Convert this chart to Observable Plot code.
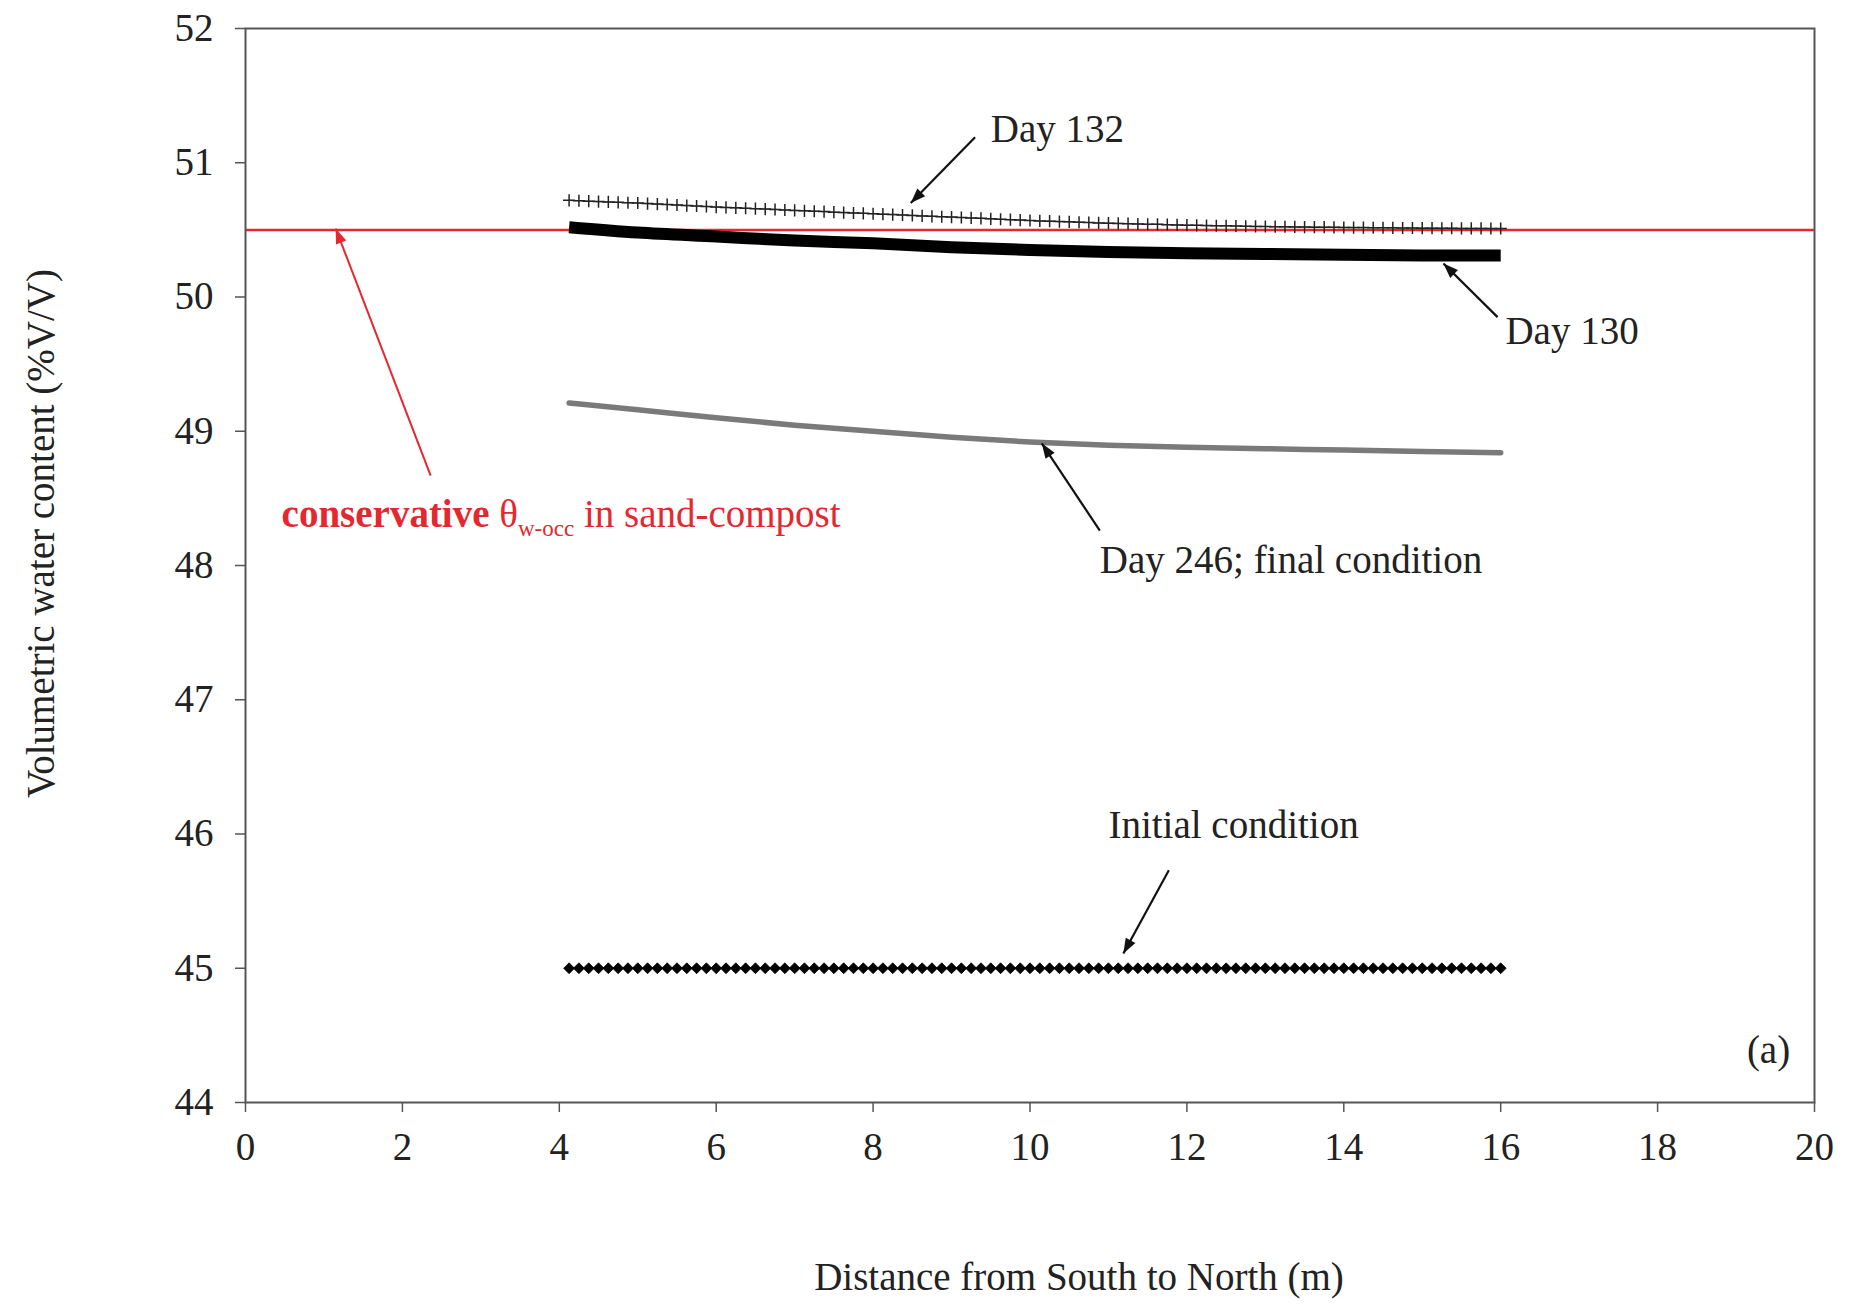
<!DOCTYPE html>
<html>
<head>
<meta charset="utf-8">
<script src="https://cdn.jsdelivr.net/npm/d3@7"></script>
<script src="https://cdn.jsdelivr.net/npm/@observablehq/plot@0.6"></script>
<style>
  html, body { margin: 0; padding: 0; background: #fff; }
  #chart svg { display: block; }
</style>
</head>
<body>
<div id="chart"></div>
<script>
// Distance (m) of the simulated points (markers)
const distance = [
  4.125, 4.25, 4.375, 4.5, 4.625, 4.75, 4.875,
  5, 5.125, 5.25, 5.375, 5.5, 5.625, 5.75, 5.875,
  6, 6.125, 6.25, 6.375, 6.5, 6.625, 6.75, 6.875,
  7, 7.125, 7.25, 7.375, 7.5, 7.625, 7.75, 7.875,
  8, 8.125, 8.25, 8.375, 8.5, 8.625, 8.75, 8.875,
  9, 9.125, 9.25, 9.375, 9.5, 9.625, 9.75, 9.875,
  10, 10.125, 10.25, 10.375, 10.5, 10.625, 10.75, 10.875,
  11, 11.125, 11.25, 11.375, 11.5, 11.625, 11.75, 11.875,
  12, 12.125, 12.25, 12.375, 12.5, 12.625, 12.75, 12.875,
  13, 13.125, 13.25, 13.375, 13.5, 13.625, 13.75, 13.875,
  14, 14.125, 14.25, 14.375, 14.5, 14.625, 14.75, 14.875,
  15, 15.125, 15.25, 15.375, 15.5, 15.625, 15.75, 15.875,
  16
];
const day132 = [
  50.720, 50.717, 50.714, 50.711, 50.708, 50.705, 50.702,
  50.700, 50.696, 50.692, 50.689, 50.685, 50.681, 50.678, 50.674,
  50.670, 50.667, 50.664, 50.661, 50.658, 50.655, 50.652, 50.648,
  50.645, 50.642, 50.639, 50.636, 50.632, 50.629, 50.626, 50.623,
  50.620, 50.617, 50.614, 50.611, 50.608, 50.604, 50.601, 50.598,
  50.595, 50.592, 50.589, 50.586, 50.582, 50.579, 50.576, 50.573,
  50.570, 50.567, 50.565, 50.562, 50.560, 50.557, 50.555, 50.552,
  50.550, 50.548, 50.546, 50.544, 50.542, 50.541, 50.539, 50.537,
  50.535, 50.534, 50.532, 50.531, 50.530, 50.529, 50.527, 50.526,
  50.525, 50.524, 50.523, 50.522, 50.521, 50.520, 50.520, 50.519,
  50.518, 50.517, 50.517, 50.516, 50.516, 50.515, 50.514, 50.514,
  50.513, 50.513, 50.512, 50.512, 50.511, 50.511, 50.511, 50.510,
  50.510
];
const initialCondition = [
  45, 45, 45, 45, 45, 45, 45,
  45, 45, 45, 45, 45, 45, 45, 45,
  45, 45, 45, 45, 45, 45, 45, 45,
  45, 45, 45, 45, 45, 45, 45, 45,
  45, 45, 45, 45, 45, 45, 45, 45,
  45, 45, 45, 45, 45, 45, 45, 45,
  45, 45, 45, 45, 45, 45, 45, 45,
  45, 45, 45, 45, 45, 45, 45, 45,
  45, 45, 45, 45, 45, 45, 45, 45,
  45, 45, 45, 45, 45, 45, 45, 45,
  45, 45, 45, 45, 45, 45, 45, 45,
  45, 45, 45, 45, 45, 45, 45, 45,
  45
];
// Smooth lines (no markers)
const lineDistance = [4.125, 5, 6, 7, 8, 9, 10, 11, 12, 13, 14, 15, 16];
const day130 = [50.52, 50.48, 50.45, 50.42, 50.40, 50.37, 50.35, 50.335, 50.325, 50.32, 50.315, 50.31, 50.31];
const day246 = [49.21, 49.16, 49.10, 49.045, 49.0, 48.955, 48.92, 48.895, 48.88, 48.87, 48.86, 48.85, 48.84];
// Conservative threshold
const thetaOcc = [50.5];

// Tick labels and titles
const xTicks = [0, 2, 4, 6, 8, 10, 12, 14, 16, 18, 20];
const yTicks = [44, 45, 46, 47, 48, 49, 50, 51, 52];
const xTitle = "Distance from South to North (m)";
const yTitle = "Volumetric water content (%V/V)";

// Annotations (data coordinates)
const annText = ["Day 132", "Day 130", "Day 246; final condition", "Initial condition"];
const annX = [9.50, 16.06, 10.89, 11.0];
const annY = [51.25, 49.74, 48.04, 46.06];
const arrX1 = [9.30, 15.96, 10.89, 11.77];
const arrY1 = [51.19, 49.85, 48.26, 45.73];
const arrX2 = [8.48, 15.27, 10.15, 11.19];
const arrY2 = [50.70, 50.25, 48.91, 45.11];
const redText = ["conservative θw-occ in sand-compost"];
const redTextX = [0.46];
const redTextY = [48.38];
const redArrowX1 = [2.36], redArrowY1 = [48.67], redArrowX2 = [1.15], redArrowY2 = [50.51];
const panelLabel = ["(a)"];
const panelX = [19.69];
const panelY = [44.39];

const pts = distance.map((d, i) => ({x: d, d132: day132[i], init: initialCondition[i]}));
const lines = lineDistance.map((d, i) => ({x: d, d130: day130[i], d246: day246[i]}));
const ann = annText.map((t, i) => ({t, x: annX[i], y: annY[i], x1: arrX1[i], y1: arrY1[i], x2: arrX2[i], y2: arrY2[i]}));
const red = redText.map((t, i) => ({t, x: redTextX[i], y: redTextY[i], x1: redArrowX1[i], y1: redArrowY1[i], x2: redArrowX2[i], y2: redArrowY2[i]}));

const axisColor = "#555";
const textColor = "#222";
const redColor = "#e5282f";
const FS = 39;

const layout = {
  width: 1849,
  height: 1307,
  marginLeft: 245,
  marginRight: 35,
  marginTop: 28,
  marginBottom: 205,
  x: {domain: [0, 20]},
  y: {domain: [44, 52]}
};

// Probe render to obtain the scales, for orienting the filled arrowheads
const probe = Plot.plot({...layout, marks: [Plot.frame()]});
const psx = probe.scale("x"), psy = probe.scale("y");
const sx = d3.scaleLinear(psx.domain, psx.range);
const sy = d3.scaleLinear(psy.domain, psy.range);
function heading(d) {
  const dx = sx(d.x2) - sx(d.x1), dy = sy(d.y2) - sy(d.y1);
  return Math.atan2(dx, -dy) * 180 / Math.PI;
}
// Narrow filled arrowhead, tip at origin, pointing up
const arrowHead = {
  draw(context) {
    context.moveTo(0, 0);
    context.lineTo(-5.5, 15);
    context.lineTo(5.5, 15);
    context.closePath();
  }
};

const plot = Plot.plot({
  ...layout,
  style: {fontFamily: "'Liberation Serif', 'Times New Roman', serif", fontSize: FS + "px", color: textColor, background: "#fff"},
  marks: [
    Plot.axisX({ticks: xTicks, tickSize: 10, tickPadding: 20, stroke: axisColor, strokeWidth: 1.5, label: null}),
    Plot.axisY({ticks: yTicks, tickSize: 10, tickPadding: 22, stroke: axisColor, strokeWidth: 1.5, label: null}),
    Plot.text([xTitle], {frameAnchor: "bottom", text: d => d, textAnchor: "middle", lineAnchor: "middle", dx: 49, dy: 175, fill: textColor, fontSize: FS}),
    Plot.text([yTitle], {frameAnchor: "left", text: d => d, textAnchor: "middle", lineAnchor: "middle", rotate: -90, dx: -204, dy: -32, fill: textColor, fontSize: FS}),
    Plot.ruleY(thetaOcc, {stroke: redColor, strokeWidth: 2.5}),
    // Day 246
    Plot.line(lines, {x: "x", y: "d246", stroke: "#7a7a7a", strokeWidth: 5.5, curve: "monotone-x"}),
    // Day 130
    Plot.line(lines, {x: "x", y: "d130", stroke: "#000", strokeWidth: 12, strokeLinecap: "butt", curve: "monotone-x"}),
    // Day 132
    Plot.line(pts, {x: "x", y: "d132", stroke: "#666", strokeWidth: 1.2}),
    Plot.dot(pts, {x: "x", y: "d132", symbol: "plus", r: 4, stroke: "#222", strokeWidth: 1.5}),
    // Initial condition
    Plot.line(pts, {x: "x", y: "init", stroke: "#000", strokeWidth: 1.5}),
    Plot.dot(pts, {x: "x", y: "init", symbol: "diamond2", r: 4.9, fill: "#000", stroke: "#000", strokeWidth: 0.8}),
    // Annotation arrows (shaft + filled head)
    Plot.link(ann, {x1: "x1", y1: "y1", x2: "x2", y2: "y2", stroke: "#111", strokeWidth: 2.2}),
    Plot.dot(ann, {x: "x2", y: "y2", symbol: arrowHead, rotate: heading, fill: "#111", stroke: "none"}),
    Plot.text(ann, {x: "x", y: "y", text: "t", textAnchor: "start", fill: textColor, fontSize: FS}),
    Plot.link(red, {x1: "x1", y1: "y1", x2: "x2", y2: "y2", stroke: redColor, strokeWidth: 2}),
    Plot.dot(red, {x: "x2", y: "y2", symbol: arrowHead, rotate: heading, fill: redColor, stroke: "none"}),
    Plot.text(red, {x: "x", y: "y", text: "t", textAnchor: "start", fill: redColor, fontSize: FS}),
    Plot.text(panelLabel, {x: panelX, y: panelY, text: d => d, textAnchor: "end", fill: textColor, fontSize: FS}),
    Plot.frame({stroke: axisColor, strokeWidth: 2})
  ]
});

// Rich text for the red label: bold word + subscript
d3.select(plot).selectAll("text").filter(function () {
  return this.textContent === redText[0];
}).each(function () {
  const t = d3.select(this);
  t.text(null);
  t.append("tspan").attr("font-weight", "bold").text("conservative");
  t.append("tspan").text(" θ");
  t.append("tspan").attr("font-size", "23px").attr("dy", "9").text("w-occ");
  t.append("tspan").attr("dy", "-9").text(" in sand-compost");
});

document.getElementById("chart").appendChild(plot);
</script>
</body>
</html>
